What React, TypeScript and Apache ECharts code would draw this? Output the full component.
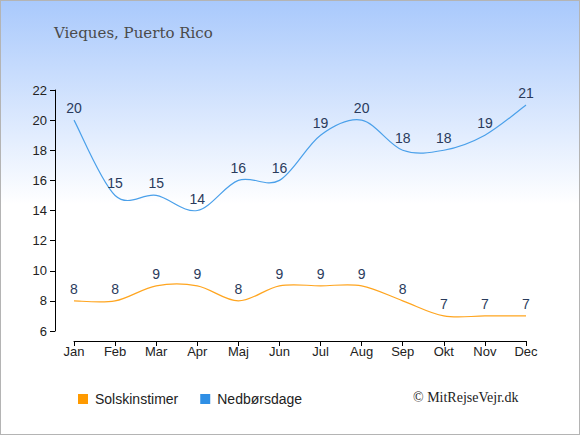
import React, { useEffect, useRef } from "react";
import * as echarts from "echarts";

const months = ["Jan", "Feb", "Mar", "Apr", "Maj", "Jun", "Jul", "Aug", "Sep", "Okt", "Nov", "Dec"];
const sunHours = [8, 8, 9, 9, 8, 9, 9, 9, 8, 7, 7, 7];
const rainDays = [20, 15, 15, 14, 16, 16, 19, 20, 18, 18, 19, 21];
const yTicks = { min: 6, max: 22, interval: 2 };
const titleText = "Vieques, Puerto Rico";
const copyright = "© MitRejseVejr.dk";
const seriesNames = ["Solskinstimer", "Nedbørsdage"];

function curveRenderer(values: number[], color: string) {
  return (params: any, api: any) => {
    if (params.dataIndex !== 0) return null;
    const pts = values.map((v, i) => api.coord([i, v]));
    const n = pts.length;
    let d = `M${pts[0][0]},${pts[0][1]}`;
    for (let i = 0; i < n - 1; i++) {
      const p0 = pts[Math.max(i - 1, 0)];
      const p1 = pts[i];
      const p2 = pts[i + 1];
      const p3 = pts[Math.min(i + 2, n - 1)];
      const c1x = p1[0] + (p2[0] - p0[0]) / 6;
      const c1y = p1[1] + (p2[1] - p0[1]) / 6;
      const c2x = p2[0] - (p3[0] - p1[0]) / 6;
      const c2y = p2[1] - (p3[1] - p1[1]) / 6;
      d += ` C${c1x},${c1y} ${c2x},${c2y} ${p2[0]},${p2[1]}`;
    }
    return {
      type: "path",
      shape: { pathData: d },
      style: { stroke: color, fill: "none", lineWidth: 1.2 },
      silent: true,
    };
  };
}

export default function App() {
  const ref = useRef<HTMLDivElement>(null);
  useEffect(() => {
    document.body.style.margin = "0";
    if (!ref.current) return;
    const chart = echarts.init(ref.current, null, { renderer: "svg" });
    const labelStyle = {
      show: true,
      position: "top",
      distance: 5,
      color: "#2a3b5c",
      fontSize: 14,
      fontFamily: "Liberation Sans, Arial, sans-serif",
    };
    chart.setOption({
      animation: false,
      backgroundColor: {
        type: "linear",
        x: 0,
        y: 0,
        x2: 0,
        y2: 1,
        colorStops: [
          { offset: 0, color: "#a9c9fc" },
          { offset: 0.47, color: "#ffffff" },
          { offset: 1, color: "#ffffff" },
        ],
      },
      title: {
        text: titleText,
        left: 48,
        top: 19,
        textStyle: {
          fontFamily: "DejaVu Serif, serif",
          fontWeight: "normal",
          fontSize: 15,
          color: "#4a4a4a",
        },
      },
      grid: { left: 73, right: 53, top: 89, bottom: 103 },
      legend: {
        left: 72,
        top: 386,
        icon: "rect",
        itemWidth: 10,
        itemHeight: 10,
        itemGap: 22,
        textStyle: { fontSize: 14, color: "#222", fontFamily: "Liberation Sans, Arial, sans-serif", padding: [0, 0, 0, 2] },
        data: [
          { name: seriesNames[0], itemStyle: { color: "#ff9a00" } },
          { name: seriesNames[1], itemStyle: { color: "#2f8fe5" } },
        ],
      },
      graphic: [
        {
          type: "text",
          left: 412,
          top: 389,
          style: {
            text: copyright,
            font: "14px 'Liberation Serif', 'DejaVu Serif', serif",
            fill: "#222",
          },
        },
      ],
      xAxis: {
        type: "category",
        data: months,
        boundaryGap: false,
        offset: 10,
        axisLine: { lineStyle: { color: "#000", width: 1 } },
        axisTick: { show: true, length: 5, lineStyle: { color: "#000" } },
        axisLabel: { color: "#222", fontSize: 13, margin: 4, fontFamily: "Liberation Sans, Arial, sans-serif" },
        splitLine: { show: false },
      },
      yAxis: {
        type: "value",
        min: yTicks.min,
        max: yTicks.max,
        interval: yTicks.interval,
        offset: 19,
        axisLine: { show: true, lineStyle: { color: "#000", width: 1 } },
        axisTick: { show: true, length: 5, lineStyle: { color: "#000" } },
        axisLabel: { color: "#222", fontSize: 13, margin: 8, fontFamily: "Liberation Sans, Arial, sans-serif" },
        splitLine: { show: false },
      },
      series: [
        {
          name: seriesNames[0],
          type: "line",
          data: sunHours,
          symbol: "circle",
          symbolSize: 0,
          lineStyle: { opacity: 0 },
          itemStyle: { color: "#ff9a00" },
          label: labelStyle,
        },
        {
          name: seriesNames[1],
          type: "line",
          data: rainDays,
          symbol: "circle",
          symbolSize: 0,
          lineStyle: { opacity: 0 },
          itemStyle: { color: "#2f8fe5" },
          label: labelStyle,
        },
        {
          name: "sunCurve",
          type: "custom",
          data: sunHours.map((v, i) => [i, v]),
          renderItem: curveRenderer(sunHours, "#ffa51f"),
          silent: true,
        },
        {
          name: "rainCurve",
          type: "custom",
          data: rainDays.map((v, i) => [i, v]),
          renderItem: curveRenderer(rainDays, "#4aa0ea"),
          silent: true,
        },
      ],
    });
    return () => chart.dispose();
  }, []);
  return (
    <div
      ref={ref}
      style={{ width: 580, height: 435, border: "1px solid #b4b4b4", boxSizing: "border-box" }}
    />
  );
}
